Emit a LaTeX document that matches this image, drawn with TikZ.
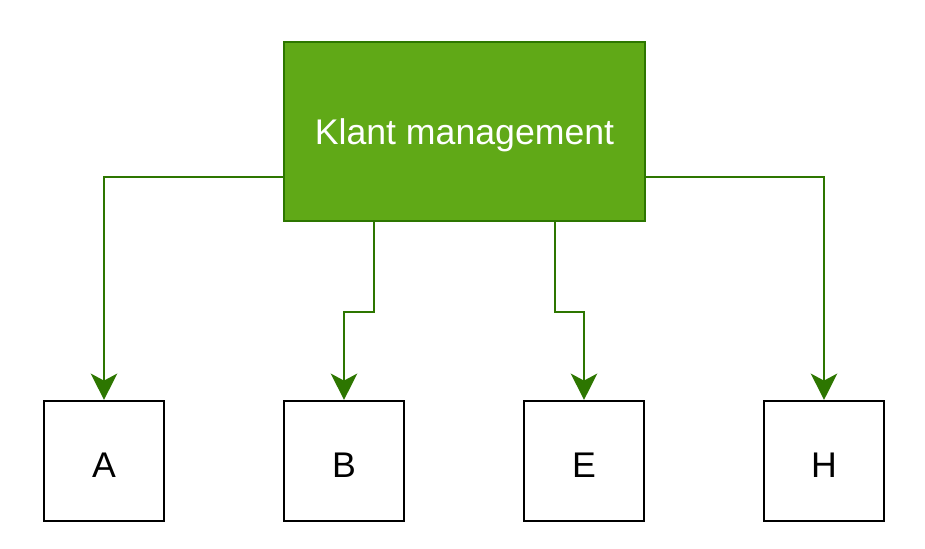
\documentclass[tikz,border=0pt]{standalone}
\usepackage{fontspec}
\setmainfont{Liberation Sans}
\usetikzlibrary{arrows.meta,calc}
\definecolor{klantfill}{HTML}{60A917}
\definecolor{klantline}{HTML}{2D7600}
\newcommand{\lowtext}[1]{\raisebox{-2.4pt}[\height][\depth]{#1}}
\tikzset{
  klantbox/.style={draw=klantline, fill=klantfill, line width=1.2pt, minimum width=361*0.02cm, minimum height=179*0.02cm, text=white, font=\fontsize{20.3}{24}\selectfont, inner sep=0pt},
  leafbox/.style={draw=black, line width=1.2pt, minimum width=120*0.02cm, minimum height=120*0.02cm, font=\fontsize{20.3}{24}\selectfont, inner sep=0pt},
  link/.style={draw=klantline, line width=1.2pt, -{Stealth[length=15pt, width=15pt, inset=4pt]}}
}
\begin{document}
\begin{tikzpicture}[x=0.02cm, y=-0.02cm]
        \useasboundingbox (0, 0) rectangle (925, 548);

        % Draw the top box
        \node[klantbox] (klant) at (464.5, 131.5) {\lowtext{Klant management}};

        % Draw the four boxes below it
        \node[leafbox] (a) at (104, 461) {\lowtext{A}};
        \node[leafbox] (b) at (344, 461) {\lowtext{B}};
        \node[leafbox] (e) at (584, 461) {\lowtext{E}};
        \node[leafbox] (h) at (824, 461) {\lowtext{H}};

        % Exit points on the top box
        \coordinate (outa) at ($(klant.south west)!0.25!(klant.north west)$);
        \coordinate (outh) at ($(klant.south east)!0.25!(klant.north east)$);
        \coordinate (outb) at ($(klant.south west)!0.25!(klant.south east)$);
        \coordinate (oute) at ($(klant.south west)!0.75!(klant.south east)$);

        % Draw the connectors
        \draw[link] (outa) -| (a);
        \draw[link] (outb) -- ++(0, 90) -| (b);
        \draw[link] (oute) -- ++(0, 90) -| (e);
        \draw[link] (outh) -| (h);
    \end{tikzpicture}
\end{document}
